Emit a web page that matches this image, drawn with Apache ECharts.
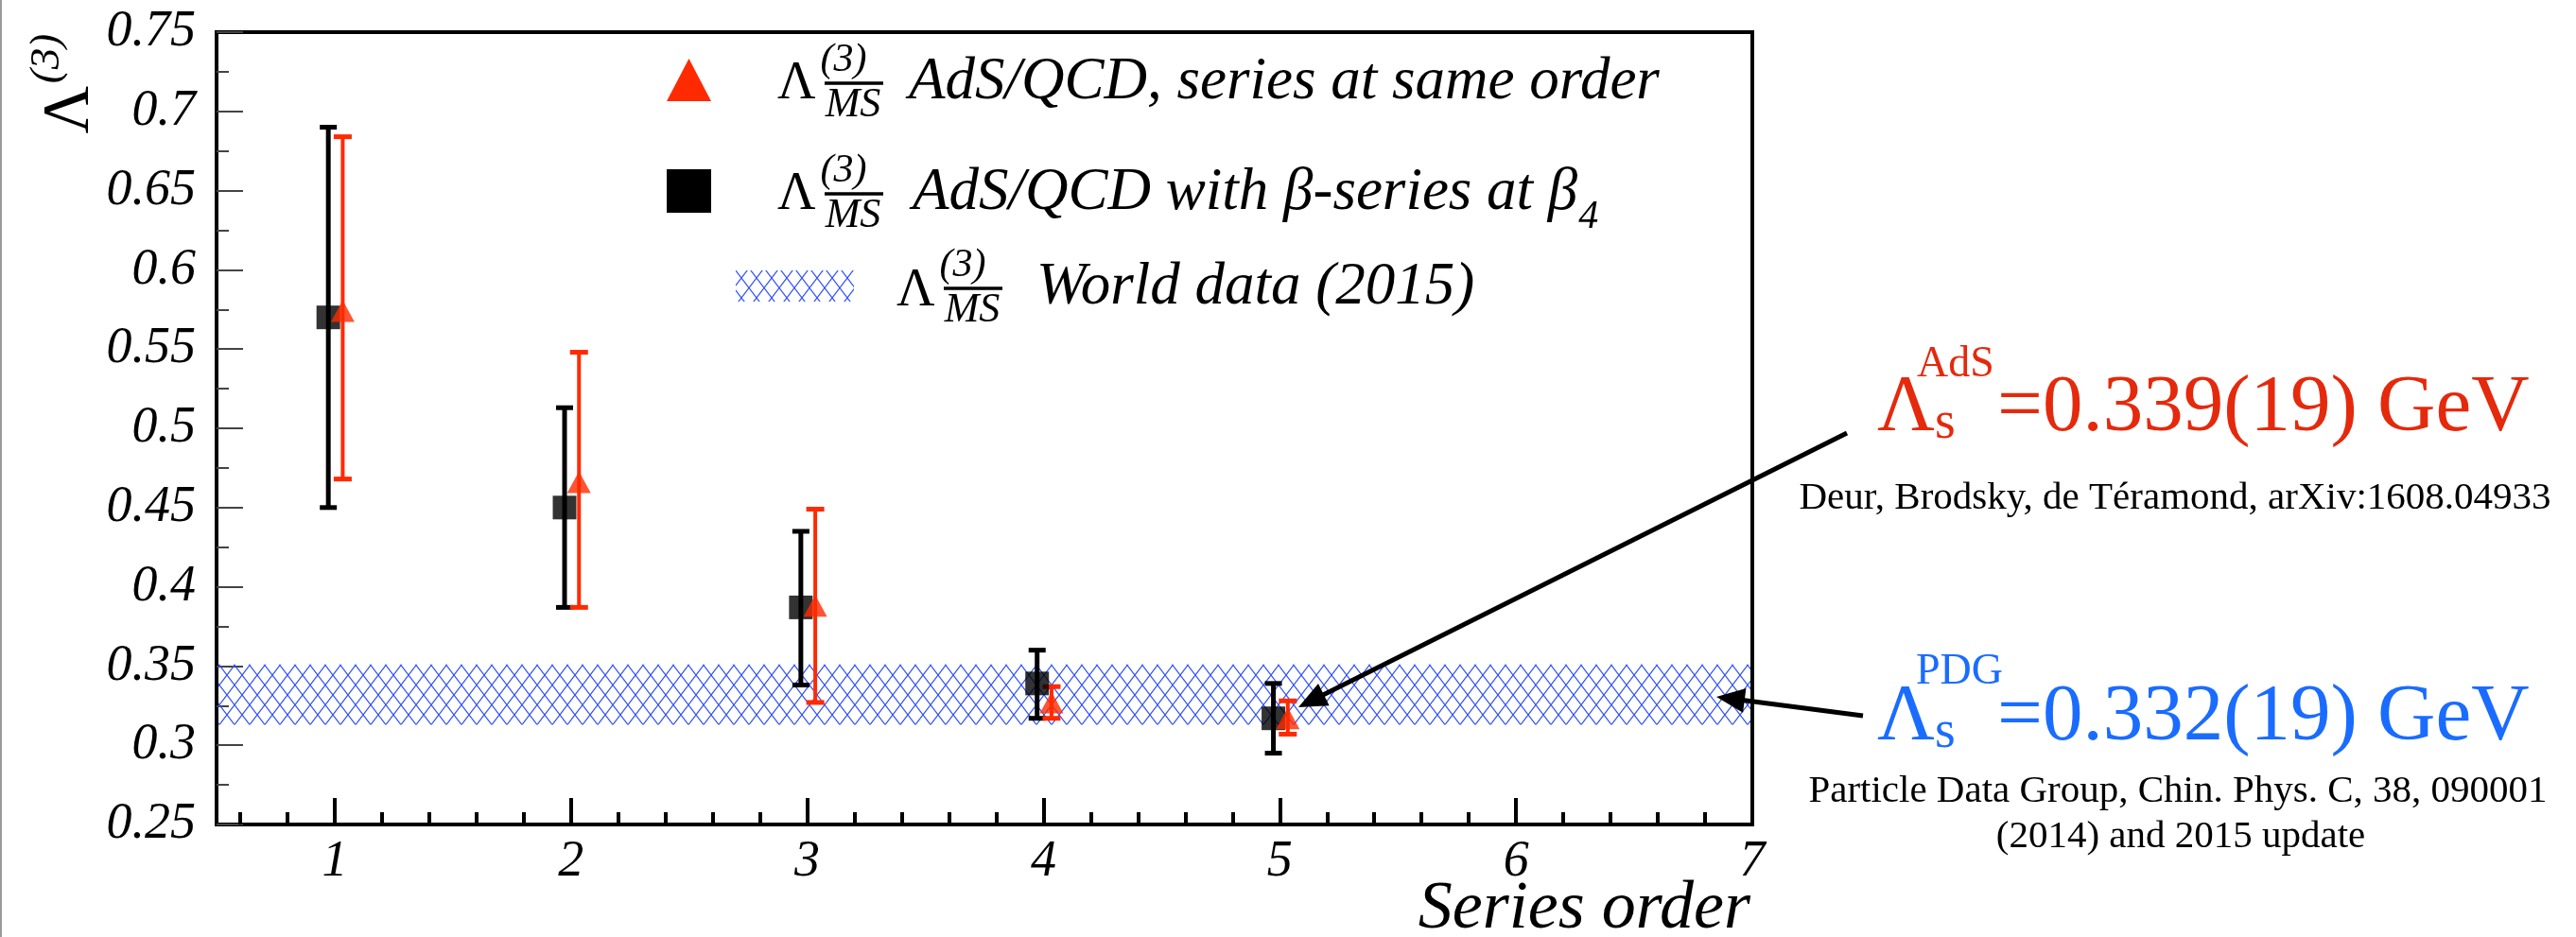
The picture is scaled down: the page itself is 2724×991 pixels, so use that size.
<!DOCTYPE html>
<html><head><meta charset="utf-8">
<script src="https://cdn.jsdelivr.net/npm/echarts@6/dist/echarts.min.js"></script>
<style>html,body{margin:0;padding:0;background:#fff}#c{width:2724px;height:991px}</style>
</head><body><div id="c"></div>
<script>
// ---- data ----
const seriesOrder = [1, 2, 3, 4, 5];
const betaValue = [0.570, 0.450, 0.387, 0.339, 0.317];
const betaLow   = [0.450, 0.387, 0.338, 0.317, 0.295];
const betaHigh  = [0.690, 0.513, 0.435, 0.360, 0.339];
const sameValue = [0.574, 0.466, 0.388, 0.327, 0.317];
const sameLow   = [0.468, 0.387, 0.327, 0.317, 0.307];
const sameHigh  = [0.684, 0.548, 0.449, 0.337, 0.328];
const worldCenter = 0.332;
const worldError = 0.019;
const xTickLabels = [1, 2, 3, 4, 5, 6, 7];
const yTickLabels = [0.25, 0.3, 0.35, 0.4, 0.45, 0.5, 0.55, 0.6, 0.65, 0.7, 0.75];

// ---- styling ----
const RED = '#ff2a00', RED_TXT = '#e5290c', BLUE_TXT = '#1a6cff', HATCH = '#2f50ff';
const SERIF = 'Liberation Serif';
const dxBeta = -0.027, dxSame = 0.034;

// hatch pattern
const tile = document.createElement('canvas');
tile.width = 16; tile.height = 21;
(function () {
  const g = tile.getContext('2d');
  g.strokeStyle = HATCH; g.lineWidth = 1.2;
  g.beginPath(); g.moveTo(0, 0); g.lineTo(16, 21); g.moveTo(16, 0); g.lineTo(0, 21); g.stroke();
})();
const hatchFill = { image: tile, repeat: 'repeat' };

const minorX = [];
for (let v = 0.6; v < 7; v += 0.2) {
  const r = Math.round(v * 10) / 10;
  if (Math.abs(r - Math.round(r)) > 0.01) minorX.push(r);
}

function errorBars(color, lw, capHalf, dx, lows, highs) {
  return {
    type: 'custom', xAxisIndex: 0, yAxisIndex: 0, z: 3, silent: true,
    data: seriesOrder.map((x, i) => [x + dx, lows[i], highs[i]]),
    renderItem(params, api) {
      const x = api.value(0);
      const lo = api.coord([x, api.value(1)]);
      const hi = api.coord([x, api.value(2)]);
      return { type: 'group', children: [
        { type: 'line', shape: { x1: lo[0], y1: lo[1], x2: hi[0], y2: hi[1] }, style: { stroke: color, lineWidth: lw } },
        { type: 'line', shape: { x1: lo[0] - capHalf, y1: lo[1], x2: lo[0] + capHalf, y2: lo[1] }, style: { stroke: color, lineWidth: 5 } },
        { type: 'line', shape: { x1: hi[0] - capHalf, y1: hi[1], x2: hi[0] + capHalf, y2: hi[1] }, style: { stroke: color, lineWidth: 5 } }
      ] };
    }
  };
}

function fontOf(size, italic) { return (italic ? 'italic ' : '') + size + 'px ' + SERIF; }
function measure(text, font) {
  const c = document.createElement('canvas').getContext('2d');
  c.font = font; return c.measureText(text).width;
}
// text placed by its baseline (line box bottom sits ~0.2em under the baseline)
function TB(x, base, text, size, o) {
  o = o || {};
  return { type: 'text', z: 100, x: x, y: base + 0.2 * size,
    style: { text: text, font: fontOf(size, o.italic), fill: o.color || '#000', align: o.align || 'left', verticalAlign: 'bottom', lineHeight: size } };
}
function TC(cx, cy, text, size, o) {
  o = o || {};
  return { type: 'text', z: 100, x: cx, y: cy, rotation: o.rot || 0,
    style: { text: text, font: fontOf(size, o.italic), fill: o.color || '#000', align: 'center', verticalAlign: 'middle' } };
}
function arrow(x1, y1, x2, y2) {
  const a = Math.atan2(y2 - y1, x2 - x1), L = 30, W = 13;
  const bx = x2 - L * Math.cos(a), by = y2 - L * Math.sin(a);
  const px = -Math.sin(a) * W, py = Math.cos(a) * W;
  return [
    { type: 'line', z: 50, shape: { x1: x1, y1: y1, x2: bx + 2 * Math.cos(a), y2: by + 2 * Math.sin(a) }, style: { stroke: '#000', lineWidth: 5 } },
    { type: 'polygon', z: 50, shape: { points: [[x2, y2], [bx + px, by + py], [bx - px, by - py]] }, style: { fill: '#000' } }
  ];
}
function fraction(cx, barY) {
  return [
    TC(cx - 10, barY - 24, '(3)', 42, { italic: true }),
    { type: 'line', z: 100, shape: { x1: cx - 30, y1: barY, x2: cx + 32, y2: barY }, style: { stroke: '#000', lineWidth: 3.5 } },
    TC(cx, barY + 23, 'MS', 44, { italic: true })
  ];
}

const row2Text = 'AdS/QCD with β-series at β';

function buildGraphics() {
  const row2W = measure(row2Text, fontOf(63, true));
  return [
    { type: 'line', z: 0, shape: { x1: 1, y1: 0, x2: 1, y2: 991 }, style: { stroke: '#9a9a9a', lineWidth: 2 } },
    // y axis title
    TC(75, 116, 'Λ', 70, { rot: Math.PI / 2 }),
    TC(50, 62, '(3)', 45, { rot: Math.PI / 2, italic: true }),
    // x axis title
    TB(1851, 984, 'Series order', 72, { italic: true, align: 'right' }),
    // legend row 1
    { type: 'polygon', z: 100, shape: { points: [[705, 107], [752, 107], [728.5, 62]] }, style: { fill: RED } },
    TB(822, 106, 'Λ', 56),
    ...fraction(902, 88),
    TB(961, 106, 'AdS/QCD, series at same order', 63, { italic: true }),
    // legend row 2
    { type: 'rect', z: 100, shape: { x: 705, y: 179, width: 47, height: 46 }, style: { fill: '#000' } },
    TB(822, 223, 'Λ', 56),
    ...fraction(902, 205),
    TB(965, 223, row2Text, 63, { italic: true }),
    TB(965 + row2W + 1, 243, '4', 42, { italic: true }),
    // legend row 3
    { type: 'rect', z: 100, shape: { x: 778, y: 286, width: 125, height: 33 }, style: { fill: hatchFill } },
    TB(948, 325, 'Λ', 56),
    ...fraction(1028, 305),
    TB(1096, 323, 'World data (2015)', 63, { italic: true }),
    // AdS annotation
    TB(1985, 458, 'Λ', 84, { color: RED_TXT }),
    TB(2027, 400, 'AdS', 46, { color: RED_TXT }),
    TB(2046, 465, 's', 56, { color: RED_TXT }),
    TB(2112, 458, '=0.339(19) GeV', 85, { color: RED_TXT }),
    TB(2300, 540, 'Deur, Brodsky, de Téramond, arXiv:1608.04933', 41, { align: 'center' }),
    // PDG annotation
    TB(1985, 785, 'Λ', 84, { color: BLUE_TXT }),
    TB(2026, 725, 'PDG', 46, { color: BLUE_TXT }),
    TB(2046, 792, 's', 56, { color: BLUE_TXT }),
    TB(2112, 785, '=0.332(19) GeV', 85, { color: BLUE_TXT }),
    TB(2303, 850, 'Particle Data Group, Chin. Phys. C, 38, 090001', 41, { align: 'center' }),
    TB(2306, 898, '(2014) and 2015 update', 41, { align: 'center' }),
    ...arrow(1953, 458, 1373, 748),
    ...arrow(1970, 757, 1815, 737)
  ];
}

function buildOption() {
  return {
    animation: false,
    backgroundColor: '#fff',
    textStyle: { fontFamily: SERIF },
    grid: { left: 229, top: 34, width: 1624, height: 838, show: true, borderColor: '#000', borderWidth: 4, containLabel: false },
    xAxis: [{
      type: 'value', min: 0.5, max: 7,
      axisLine: { lineStyle: { color: '#000', width: 4 } },
      axisTick: { inside: true, length: 28, customValues: xTickLabels, lineStyle: { color: '#000', width: 4 } },
      axisLabel: { customValues: xTickLabels, margin: 13, color: '#000', fontFamily: SERIF, fontStyle: 'italic', fontSize: 54 },
      splitLine: { show: false }
    }, {
      type: 'value', min: 0.5, max: 7, position: 'bottom',
      axisLine: { show: false },
      axisTick: { inside: true, length: 13, customValues: minorX, lineStyle: { color: '#000', width: 4 } },
      axisLabel: { show: false }, splitLine: { show: false }
    }],
    yAxis: {
      type: 'value', min: 0.25, max: 0.75, interval: 0.05,
      axisLine: { show: true, lineStyle: { color: '#000', width: 4 } },
      axisTick: { inside: true, length: 28, lineStyle: { color: '#444', width: 2 } },
      minorTick: { show: true, splitNumber: 2, length: 13, lineStyle: { color: '#444', width: 2 } },
      axisLabel: { customValues: yTickLabels, margin: 22, color: '#000', fontFamily: SERIF, fontStyle: 'italic', fontSize: 54 },
      splitLine: { show: false }
    },
    series: [
      {
        type: 'custom', name: 'World data (2015)', xAxisIndex: 0, yAxisIndex: 0, z: 1, silent: true,
        data: [[worldCenter - worldError, worldCenter + worldError]],
        renderItem(params, api) {
          const a = api.coord([0.5, api.value(1)]);
          const b = api.coord([7, api.value(0)]);
          return { type: 'rect', shape: { x: a[0] + 2, y: a[1], width: b[0] - a[0] - 4, height: b[1] - a[1] }, style: { fill: hatchFill } };
        }
      },
      errorBars('#000', 5, 9, dxBeta, betaLow, betaHigh),
      {
        type: 'scatter', name: 'AdS/QCD with β-series at β4', xAxisIndex: 0, z: 4, symbol: 'rect', symbolSize: 25,
        itemStyle: { color: '#000' },
        data: seriesOrder.map((x, i) => [x + dxBeta, betaValue[i]])
      },
      errorBars(RED, 4, 9.5, dxSame, sameLow, sameHigh),
      {
        type: 'scatter', name: 'AdS/QCD, series at same order', xAxisIndex: 0, z: 5, symbol: 'triangle', symbolSize: [25, 23],
        itemStyle: { color: RED },
        data: seriesOrder.map((x, i) => [x + dxSame, sameValue[i]])
      }
    ],
    graphic: buildGraphics()
  };
}

const chart = echarts.init(document.getElementById('c'));
chart.setOption(buildOption());
function redraw() { chart.setOption(buildOption(), true); }
if (document.fonts && document.fonts.ready) document.fonts.ready.then(redraw);
setTimeout(redraw, 150);
</script>
</body></html>
